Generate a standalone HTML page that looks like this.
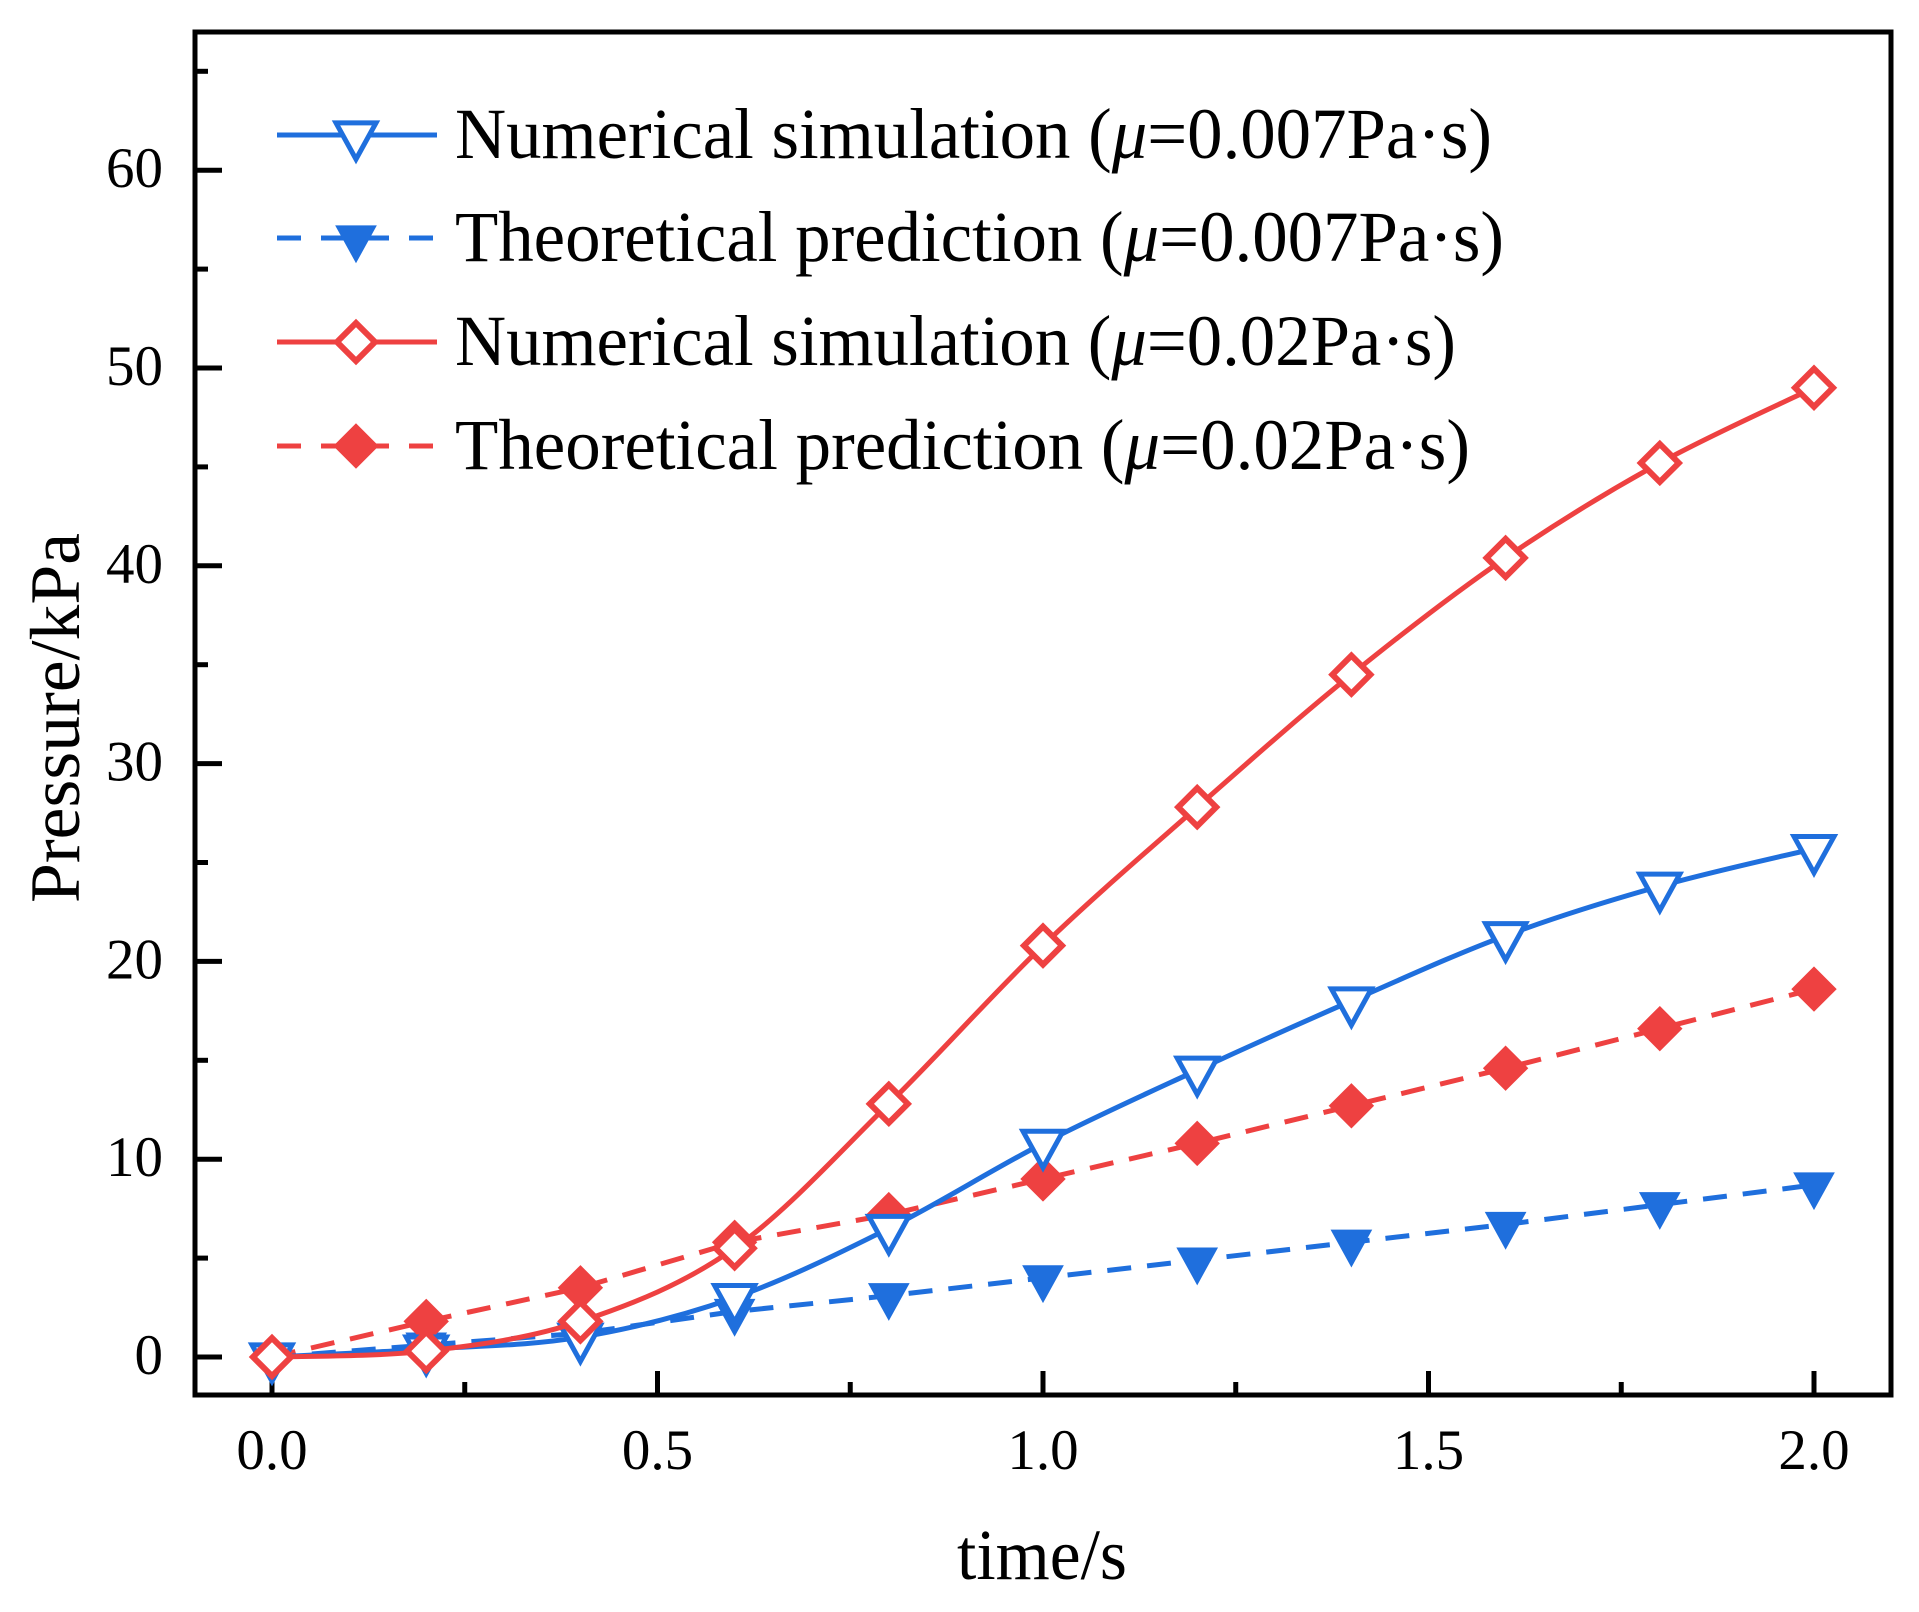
<!DOCTYPE html>
<html><head><meta charset="utf-8"><style>
html,body{margin:0;padding:0;background:#fff;}
svg{display:block;font-family:"Liberation Serif",serif;}
</style></head><body>
<svg id="chart" width="1919" height="1612" viewBox="0 0 1919 1612">
<g id="axes"></g>
<g id="series"></g>
<g id="legend"></g>
</svg>
<script>
const times = [0,0.2,0.4,0.6,0.8,1.0,1.2,1.4,1.6,1.8,2.0];
const numSim007 = [0,0.4,1.0,3.0,6.5,10.8,14.5,18.0,21.3,23.8,25.7];
const theo007 = [0,0.6,1.2,2.3,3.1,4.0,4.9,5.8,6.7,7.7,8.7];
const numSim02 = [0,0.3,1.8,5.5,12.8,20.8,27.8,34.5,40.4,45.2,49.0];
const theo02 = [0,1.8,3.5,5.8,7.2,9.0,10.8,12.7,14.6,16.6,18.6];
const xTicks = [0,0.5,1.0,1.5,2.0];
const xTickLabels = ["0.0","0.5","1.0","1.5","2.0"];
const yTicks = [0,10,20,30,40,50,60];
const yTickLabels = ["0","10","20","30","40","50","60"];

const NS="http://www.w3.org/2000/svg";
const L=195,R=1891,T=32,B=1395;
const X0=272, XS=771; const Y0=1357, YS=19.78;
function xs(v){return X0+v*XS;}
function ys(v){return Y0-v*YS;}
function mk(tag,attrs,parent){const e=document.createElementNS(NS,tag);for(const k in attrs)e.setAttribute(k,attrs[k]);parent.appendChild(e);return e;}
const axes=document.getElementById('axes');
const ser=document.getElementById('series');
const leg=document.getElementById('legend');

let fr=mk('rect',{x:L,y:T,width:R-L,height:B-T,fill:'none',stroke:'#000','stroke-width':5},axes);



for(let v=0;v<=65;v+=5){
  const major=v%10===0;
  let t=mk('line',{x1:L,x2:L+(major?27:13),y1:ys(v),y2:ys(v),stroke:'#000','stroke-width':5},axes);
  
  
}
yTicks.forEach((v,i)=>{
  let t=mk('text',{x:163,y:ys(v)+17,'font-size':57,'text-anchor':'end'},axes);
  t.textContent=yTickLabels[i];
  
  
});
for(let k=0;k<=8;k++){
  const v=k*0.25; const major=k%2===0;
  let t=mk('line',{x1:xs(v),x2:xs(v),y1:B,y2:B-(major?24:13),stroke:'#000','stroke-width':5},axes);
  
  
}
xTicks.forEach((v,i)=>{
  let t=mk('text',{x:xs(v),y:1469,'font-size':57,'text-anchor':'middle'},axes);
  t.textContent=xTickLabels[i];
  
  
});
let xt=mk('text',{x:1042,y:1579,'font-size':72,'text-anchor':'middle',textLength:170,lengthAdjust:'spacingAndGlyphs'},axes);
xt.textContent='time/s';


let yt=mk('text',{x:0,y:0,'font-size':71,'text-anchor':'middle',textLength:370,lengthAdjust:'spacingAndGlyphs',transform:'translate(79,718) rotate(-90)'},axes);
yt.textContent='Pressure/kPa';



const BLUE='#1f6fdd', RED='#ee4141';
function smoothPath(pts){
  let d='M'+pts[0][0]+','+pts[0][1];
  for(let i=0;i<pts.length-1;i++){
    const p0=pts[Math.max(0,i-1)],p1=pts[i],p2=pts[i+1],p3=pts[Math.min(pts.length-1,i+2)];
    const c1=[p1[0]+(p2[0]-p0[0])/6,p1[1]+(p2[1]-p0[1])/6];
    const c2=[p2[0]-(p3[0]-p1[0])/6,p2[1]-(p3[1]-p1[1])/6];
    d+=' C'+c1[0]+','+c1[1]+' '+c2[0]+','+c2[1]+' '+p2[0]+','+p2[1];
  }
  return d;
}
function marker(type,cx,cy,color,parent){
  let e;
  if(type==='triOpen'||type==='triFill'){
    const w=20,h=22;
    e=mk('polygon',{points:`${cx-w},${cy-h*0.55} ${cx+w},${cy-h*0.55} ${cx},${cy+h*1.1}`,fill:type==='triFill'?color:'#fff',stroke:color,'stroke-width':type==='triFill'?1:5,'stroke-linejoin':'miter'},parent);
  } else {
    const r=type==='diaFill'?22:19;
    e=mk('polygon',{points:`${cx},${cy-r} ${cx+r},${cy} ${cx},${cy+r} ${cx-r},${cy}`,fill:type==='diaFill'?color:'#fff',stroke:color,'stroke-width':type==='diaFill'?1:6},parent);
  }
  return e;
}
function drawSeries(vals,color,dashed,mtype,name){
  const g=mk('g',{},ser);
  
  
  const pts=times.map((t,i)=>[xs(t),ys(vals[i])]);
  const p=mk('path',{d:dashed?('M'+pts.map(p=>p.join(',')).join(' L')):smoothPath(pts),fill:'none',stroke:color,'stroke-width':5,'stroke-dasharray':dashed?'24 16':'none'},g);
  
  
  pts.forEach(q=>{
    const m=marker(mtype,q[0],q[1],color,g);
    
    
  });
}
drawSeries(theo007,BLUE,true,'triFill','theoretical-0007');
drawSeries(theo02,RED,true,'diaFill','theoretical-002');
drawSeries(numSim007,BLUE,false,'triOpen','numerical-0007');
drawSeries(numSim02,RED,false,'diaOpen','numerical-002');

const legItems=[
 {label:'Numerical simulation (',tail:'=0.007Pa·s)',color:BLUE,dash:false,m:'triOpen',y:135,end:1492,name:'legend-numerical-0007'},
 {label:'Theoretical prediction (',tail:'=0.007Pa·s)',color:BLUE,dash:true,m:'triFill',y:238,end:1504,name:'legend-theoretical-0007'},
 {label:'Numerical simulation (',tail:'=0.02Pa·s)',color:RED,dash:false,m:'diaOpen',y:342,end:1456,name:'legend-numerical-002'},
 {label:'Theoretical prediction (',tail:'=0.02Pa·s)',color:RED,dash:true,m:'diaFill',y:446,end:1470,name:'legend-theoretical-002'}
];
legItems.forEach(it=>{
  const g=mk('g',{},leg);
  
  
  mk('line',{x1:277,x2:437,y1:it.y,y2:it.y,stroke:it.color,'stroke-width':5,'stroke-dasharray':it.dash?'24 20':'none'},g);
  marker(it.m,356,it.y,it.color,g);
  const t=mk('text',{x:455,y:it.y+23,'font-size':72,textLength:it.end-455,lengthAdjust:'spacingAndGlyphs'},g);
  t.appendChild(document.createTextNode(it.label));
  const mu=mk('tspan',{'font-style':'italic'},t); mu.textContent='μ';
  t.appendChild(document.createTextNode(it.tail));
});
</script>
</body></html>
